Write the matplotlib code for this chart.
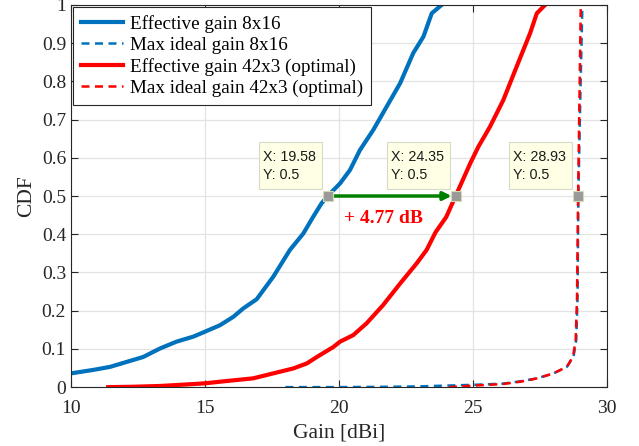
import matplotlib.pyplot as plt
from matplotlib.patches import Rectangle
from matplotlib.transforms import IdentityTransform

# CDF curves
eff_8x16_x = [10, 10.83, 11.46, 12.08, 12.7, 13.32, 13.94, 14.56, 15.0, 15.56, 16.06, 16.43,
              16.93, 17.55, 18.17, 18.67, 19.04, 19.35, 19.58, 20.04, 20.41, 20.78, 21.28,
              21.78, 22.28, 22.77, 23.15, 23.46, 23.83]
eff_8x16_y = [0.036, 0.045, 0.053, 0.066, 0.079, 0.101, 0.119, 0.132, 0.145, 0.162, 0.184,
              0.206, 0.230, 0.289, 0.359, 0.402, 0.446, 0.481, 0.5, 0.533, 0.568, 0.62,
              0.673, 0.734, 0.795, 0.874, 0.917, 0.978, 1.0]

eff_42x3_x = [11.39, 12.3, 13.32, 14.56, 15.0, 15.81, 16.8, 17.55, 18.3, 18.8, 19.2, 19.79,
              20.04, 20.53, 21.03, 21.65, 22.28, 22.9, 23.27, 23.6, 24.0, 24.35, 24.9,
              25.2, 25.63, 26.13, 26.63, 27.13, 27.38, 27.69]
eff_42x3_y = [0, 0.001, 0.003, 0.008, 0.010, 0.016, 0.023, 0.036, 0.049, 0.062, 0.08,
              0.105, 0.119, 0.136, 0.167, 0.215, 0.271, 0.324, 0.359, 0.405, 0.445, 0.5,
              0.586, 0.629, 0.681, 0.751, 0.839, 0.926, 0.978, 1.0]

max_8x16_x = [18.0, 20, 22, 23, 24, 25, 26.1, 26.75, 27.4, 28.0, 28.5, 28.75, 28.85, 28.9,
              28.93, 29.0, 29.08]
max_8x16_y = [0, 0.0, 0.001, 0.002, 0.004, 0.006, 0.009, 0.015, 0.023, 0.036, 0.053, 0.08,
              0.123, 0.236, 0.5, 0.75, 1.0]

max_42x3_x = [24.1, 25, 26.1, 26.75, 27.4, 28.0, 28.5, 28.73, 28.83, 28.88, 28.92, 28.97, 29.02]
max_42x3_y = [0, 0.004, 0.008, 0.014, 0.023, 0.036, 0.053, 0.08, 0.123, 0.236, 0.5, 0.75, 1.0]

tip_x = [19.58, 24.35, 28.93]
tip_y = [0.5, 0.5, 0.5]

blue = '#0072BD'
red = '#FF0000'

plt.rcParams['font.family'] = ['Liberation Serif', 'DejaVu Serif']

fig = plt.figure(figsize=(6.39, 4.46), dpi=100)
ax = fig.add_axes([0.111, 0.132, 0.839, 0.857])

ax.plot(eff_8x16_x, eff_8x16_y, color=blue, lw=3, label='Effective gain 8x16')
ax.plot(max_8x16_x, max_8x16_y, color=blue, lw=1.8, ls=(0, (3.2, 2.2)),
        label='Max ideal gain 8x16')
ax.plot(eff_42x3_x, eff_42x3_y, color=red, lw=3, label='Effective gain 42x3 (optimal)')
ax.plot(max_42x3_x, max_42x3_y, color=red, lw=1.8, ls=(0, (3.2, 2.2)),
        label='Max ideal gain 42x3 (optimal)')

# gain arrow
ax.annotate('', xy=(tip_x[1] - 0.15, 0.5), xytext=(tip_x[0] + 0.15, 0.5),
            arrowprops=dict(arrowstyle='-|>', color='#008000', lw=2.5,
                            mutation_scale=12, shrinkA=0, shrinkB=0))
ax.text(21.64, 0.44, '+ 4.77 dB', color=red, fontsize=14, fontweight='bold',
        ha='center', va='center')

ax.plot(tip_x, tip_y, 's', color='#999999', markersize=7, markeredgecolor='#d8d8b0',
        markeredgewidth=0.8, zorder=5)

ax.set_xlim(10, 30)
ax.set_ylim(0, 1)
ax.set_xticks([10, 15, 20, 25, 30])
ax.set_yticks([i / 10 for i in range(11)])
ax.set_yticklabels(['0', '0.1', '0.2', '0.3', '0.4', '0.5', '0.6', '0.7', '0.8', '0.9', '1'])
ax.grid(True, color='#e3e3e3', lw=0.9)
ax.set_axisbelow(True)
ax.tick_params(direction='in', top=True, right=True, labelsize=14, colors='#262626',
               length=5)
ax.tick_params(axis='x', pad=9)
for s in ax.spines.values():
    s.set_color('#262626')
ax.set_xlabel('Gain [dBi]', fontsize=15.5, color='#262626', labelpad=5)
ax.set_ylabel('CDF', fontsize=15.5, color='#262626', labelpad=4)

leg = ax.legend(loc='upper left', fontsize=13.8, borderaxespad=0.1, handlelength=2.2,
                handletextpad=0.35, labelspacing=0.2, borderpad=0.42, fancybox=False,
                framealpha=1, edgecolor='#262626')
leg.get_frame().set_linewidth(0.8)

# data tips (MATLAB style), placed in pixels next to each marker
for x, y in zip(tip_x, tip_y):
    px, py = ax.transData.transform((x, y))
    right, bottom = px - 6, py + 7
    w, h = 63, 47
    fig.add_artist(Rectangle((right - w, bottom), w, h, transform=IdentityTransform(),
                             fc='#FFFFE6', ec='#d9d9c8', lw=0.8, zorder=6))
    fig.text(right - w + 4, bottom + h - 15, 'X: %.2f' % x, transform=IdentityTransform(),
             fontsize=10.3, family=['Liberation Sans', 'DejaVu Sans'], va='center',
             ha='left', color='#1a1a1a', zorder=7)
    fig.text(right - w + 4, bottom + h - 33, 'Y: %.1f' % y, transform=IdentityTransform(),
             fontsize=10.3, family=['Liberation Sans', 'DejaVu Sans'], va='center',
             ha='left', color='#1a1a1a', zorder=7)

plt.savefig('out.png', dpi=100)
